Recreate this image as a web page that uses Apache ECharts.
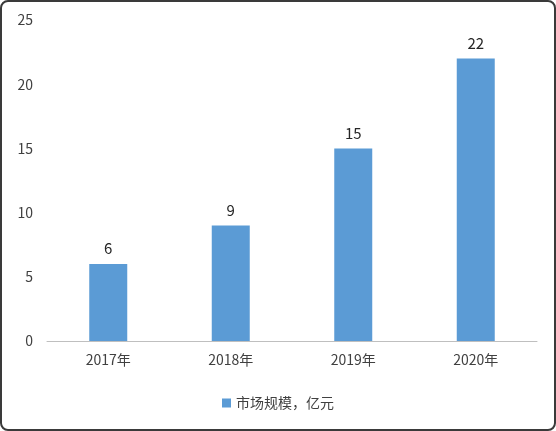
<!DOCTYPE html>
<html lang="zh">
  <head>
    <meta charset="UTF-8" />
    <title>市场规模</title>
    <style>
      html, body { margin: 0; padding: 0; background: #fff; }
      #main { width: 552px; height: 427px; border: 2px solid #3a3a3a; border-radius: 8px; }
    </style>
  </head>
  <body>
    <div id="main"></div>
    <script src="https://cdn.jsdelivr.net/npm/echarts@6/dist/echarts.min.js"></script>
    <script>
      var categories = ["2017年", "2018年", "2019年", "2020年"];
      var values = [6, 9, 15, 22];
      var seriesName = "市场规模，亿元";

      var chart = echarts.init(document.getElementById("main"));
      var font = '"Noto Sans CJK SC", "Noto Sans", sans-serif';

      chart.setOption({
        textStyle: { fontFamily: font },
        grid: { left: 45, right: 17, top: 18, bottom: 88 },
        legend: {
          bottom: 14,
          left: "center",
          icon: "rect",
          itemWidth: 9,
          itemHeight: 9,
          textStyle: { fontSize: 14, color: "#404040", fontFamily: font },
          data: [seriesName],
        },
        xAxis: {
          type: "category",
          data: categories,
          axisTick: { show: false },
          axisLine: { lineStyle: { color: "#bfbfbf" } },
          axisLabel: { fontSize: 14, color: "#404040", margin: 12 },
        },
        yAxis: {
          type: "value",
          min: 0,
          max: 25,
          interval: 5,
          splitLine: { show: false },
          axisLine: { show: false },
          axisTick: { show: false },
          axisLabel: { fontSize: 14, color: "#404040", margin: 14 },
        },
        series: [
          {
            name: seriesName,
            type: "bar",
            data: values,
            barWidth: 38,
            itemStyle: { color: "#5b9bd5" },
            label: { show: true, position: "top", fontSize: 15, color: "#262626", distance: 8 },
          },
        ],
      });
    </script>
  </body>
</html>
